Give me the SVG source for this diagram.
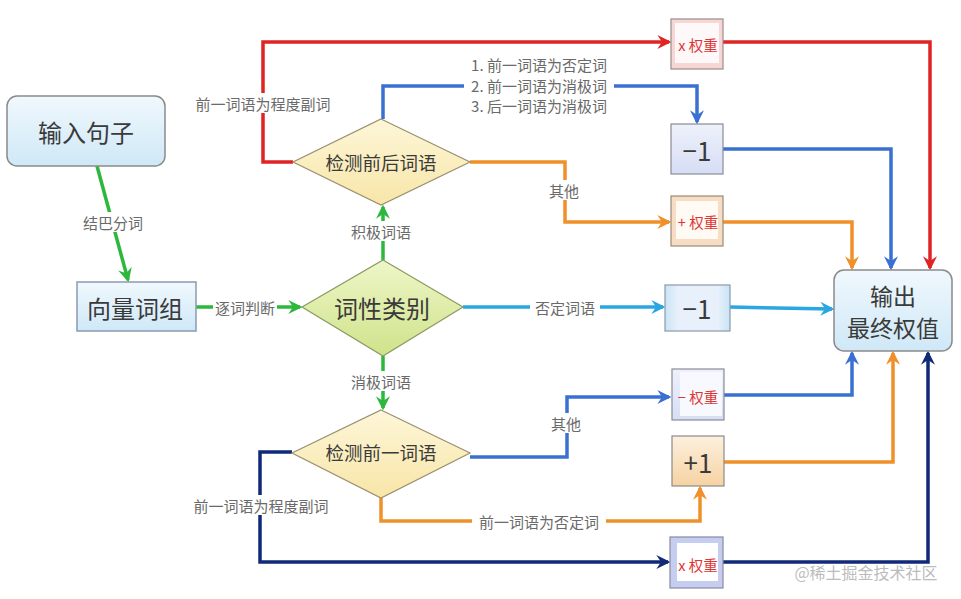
<svg xmlns="http://www.w3.org/2000/svg" width="961" height="599" viewBox="0 0 961 599">
<defs>
<style>
.t{font-family:"Noto Sans CJK SC","Noto Sans",sans-serif;}
.lbl{font-family:"Noto Sans CJK SC","Noto Sans",sans-serif;font-size:15px;fill:#6a6a6a;text-anchor:middle;dominant-baseline:central;}
.node{font-family:"Noto Sans CJK SC","Noto Sans",sans-serif;fill:#3a3a3a;text-anchor:middle;dominant-baseline:central;}
.red{font-family:"Noto Sans CJK SC","Noto Sans",sans-serif;font-size:14.5px;fill:#e03535;text-anchor:middle;dominant-baseline:central;}
.ln{fill:none;stroke-width:3.5;stroke-linejoin:miter;}
.bg{fill:#fff;}
</style>
<linearGradient id="gBlue" x1="0" y1="0" x2="0" y2="1"><stop offset="0" stop-color="#f0f8fd"/><stop offset="1" stop-color="#cfe8f7"/></linearGradient>
<linearGradient id="gGreen" x1="0" y1="0" x2="0" y2="1"><stop offset="0" stop-color="#eef6c8"/><stop offset="1" stop-color="#cfe38a"/></linearGradient>
<linearGradient id="gYellow" x1="0" y1="0" x2="0" y2="1"><stop offset="0" stop-color="#fdf6d8"/><stop offset="1" stop-color="#f8e6a8"/></linearGradient>
<linearGradient id="gLav" x1="0" y1="0" x2="0" y2="1"><stop offset="0" stop-color="#eef1fb"/><stop offset="1" stop-color="#d6def5"/></linearGradient>
<linearGradient id="gOr" x1="0" y1="0" x2="0" y2="1"><stop offset="0" stop-color="#fdf0de"/><stop offset="1" stop-color="#f6d2a2"/></linearGradient>
<linearGradient id="gSky" x1="0" y1="0" x2="1" y2="0"><stop offset="0" stop-color="#c9e4f6"/><stop offset="0.2" stop-color="#e8f1fb"/><stop offset="0.8" stop-color="#e8f1fb"/><stop offset="1" stop-color="#c9e4f6"/></linearGradient>
<marker id="aGreen" viewBox="0 0 12 12" refX="10" refY="6" markerWidth="14" markerHeight="14" markerUnits="userSpaceOnUse" orient="auto"><path d="M0,0 L12,6 L0,12 L4,6 z" fill="#2db83d"/></marker>
<marker id="aRed" viewBox="0 0 12 12" refX="10" refY="6" markerWidth="14" markerHeight="14" markerUnits="userSpaceOnUse" orient="auto"><path d="M0,0 L12,6 L0,12 L4,6 z" fill="#e02424"/></marker>
<marker id="aBlue" viewBox="0 0 12 12" refX="10" refY="6" markerWidth="14" markerHeight="14" markerUnits="userSpaceOnUse" orient="auto"><path d="M0,0 L12,6 L0,12 L4,6 z" fill="#3a70d2"/></marker>
<marker id="aOr" viewBox="0 0 12 12" refX="10" refY="6" markerWidth="14" markerHeight="14" markerUnits="userSpaceOnUse" orient="auto"><path d="M0,0 L12,6 L0,12 L4,6 z" fill="#f0902a"/></marker>
<marker id="aSky" viewBox="0 0 12 12" refX="10" refY="6" markerWidth="14" markerHeight="14" markerUnits="userSpaceOnUse" orient="auto"><path d="M0,0 L12,6 L0,12 L4,6 z" fill="#2aa6e2"/></marker>
<marker id="aNavy" viewBox="0 0 12 12" refX="10" refY="6" markerWidth="14" markerHeight="14" markerUnits="userSpaceOnUse" orient="auto"><path d="M0,0 L12,6 L0,12 L4,6 z" fill="#102a78"/></marker>
</defs>
<rect width="961" height="599" fill="#fff"/>

<g id="connectors">
<path class="ln" stroke="#2db83d" d="M97,166 L128,280" marker-end="url(#aGreen)"/>
<path class="ln" stroke="#2db83d" d="M196,307 L300,307" marker-end="url(#aGreen)"/>
<path class="ln" stroke="#2db83d" d="M383,260 L383,207" marker-end="url(#aGreen)"/>
<path class="ln" stroke="#2db83d" d="M383,356 L383,408" marker-end="url(#aGreen)"/>
<path class="ln" stroke="#2aa6e2" d="M463,307 L663,307" marker-end="url(#aSky)"/>
<path class="ln" stroke="#2aa6e2" d="M730,307 L832,309" marker-end="url(#aSky)"/>
<path class="ln" stroke="#e02424" d="M293,162 L263,162 L263,42 L669,42" marker-end="url(#aRed)"/>
<path class="ln" stroke="#e02424" d="M723,42 L930,42 L930,268" marker-end="url(#aRed)"/>
<path class="ln" stroke="#3a70d2" d="M383,119 L383,86 L697,86 L697,122" marker-end="url(#aBlue)"/>
<path class="ln" stroke="#3a70d2" d="M723,149 L891,149 L891,268" marker-end="url(#aBlue)"/>
<path class="ln" stroke="#f0902a" d="M470,162 L565,162 L565,222 L669,222" marker-end="url(#aOr)"/>
<path class="ln" stroke="#f0902a" d="M723,222 L852,222 L852,268" marker-end="url(#aOr)"/>
<path class="ln" stroke="#3a70d2" d="M470,457 L567,457 L567,397 L669,397" marker-end="url(#aBlue)"/>
<path class="ln" stroke="#3a70d2" d="M724,395 L852,395 L852,353" marker-end="url(#aBlue)"/>
<path class="ln" stroke="#f0902a" d="M381,498 L381,521 L700,521 L700,488" marker-end="url(#aOr)"/>
<path class="ln" stroke="#f0902a" d="M724,462 L893,462 L893,353" marker-end="url(#aOr)"/>
<path class="ln" stroke="#102a78" d="M292,452 L260,452 L260,562 L668,562" marker-end="url(#aNavy)"/>
<path class="ln" stroke="#102a78" d="M723,562 L928,562 L928,353" marker-end="url(#aNavy)"/>

<rect class="bg" x="78" y="212" width="70" height="20"/>
<text class="lbl" x="113" y="222">结巴分词</text>
<rect class="bg" x="213" y="297" width="64" height="20"/>
<text class="lbl" x="245" y="307">逐词判断</text>
<rect class="bg" x="347" y="221" width="68" height="20"/>
<text class="lbl" x="381" y="231">积极词语</text>
<rect class="bg" x="347" y="371" width="68" height="20"/>
<text class="lbl" x="381" y="381">消极词语</text>
<rect class="bg" x="530" y="297" width="70" height="20"/>
<text class="lbl" x="565" y="307">否定词语</text>
<rect class="bg" x="190" y="93" width="146" height="20"/>
<text class="lbl" x="263" y="103">前一词语为程度副词</text>
<rect class="bg" x="464" y="53" width="150" height="64"/>
<text class="lbl" x="539" y="64">1. 前一词语为否定词</text>
<text class="lbl" x="539" y="85">2. 前一词语为消极词</text>
<text class="lbl" x="539" y="105">3. 后一词语为消极词</text>
<rect class="bg" x="545" y="180" width="38" height="20"/>
<text class="lbl" x="564" y="190">其他</text>
<rect class="bg" x="547" y="413" width="38" height="20"/>
<text class="lbl" x="566" y="423">其他</text>
<rect class="bg" x="472" y="511" width="134" height="20"/>
<text class="lbl" x="539" y="521">前一词语为否定词</text>
<rect class="bg" x="188" y="495" width="146" height="20"/>
<text class="lbl" x="261" y="505">前一词语为程度副词</text>
</g>

<g id="n-input">
<rect x="7" y="96" width="158" height="70" rx="10" fill="url(#gBlue)" stroke="#8a8a8a" stroke-width="1.5"/>
<text class="node" x="86" y="131" font-size="24">输入句子</text>
</g>
<g id="n-vector">
<rect x="77" y="282" width="119" height="49" fill="url(#gBlue)" stroke="#8a9ab0" stroke-width="1.5"/>
<text class="node" x="135" y="307" font-size="24">向量词组</text>
</g>
<g id="n-pos">
<polygon points="383,260 463,307 383,356 302,307" fill="url(#gGreen)" stroke="#8a9a60" stroke-width="1.2"/>
<text class="node" x="382" y="307" font-size="24">词性类别</text>
</g>
<g id="n-checkboth">
<polygon points="381,119 470,162 381,205 293,162" fill="url(#gYellow)" stroke="#9a9070" stroke-width="1.2"/>
<text class="node" x="381" y="162" font-size="18.5">检测前后词语</text>
</g>
<g id="n-checkprev">
<polygon points="381,410 470,453 381,498 292,453" fill="url(#gYellow)" stroke="#9a9070" stroke-width="1.2"/>
<text class="node" x="381" y="452" font-size="18.5">检测前一词语</text>
</g>
<g id="n-xw-top">
<rect x="671" y="19" width="52" height="50" fill="#f7d6d6" stroke="#9a8a8a" stroke-width="1.2"/>
<rect x="675" y="23" width="44" height="40" fill="#fff8f8"/>
<text class="red" x="698" y="44">x 权重</text>
</g>
<g id="n-m1-top">
<rect x="671" y="124" width="52" height="50" fill="url(#gLav)" stroke="#8a8a98" stroke-width="1.2"/>
<text class="node" x="697" y="149" font-size="26">−1</text>
</g>
<g id="n-pw">
<rect x="671" y="196" width="52" height="50" fill="#f6ddc4" stroke="#9a8a7a" stroke-width="1.2"/>
<rect x="676" y="201" width="42" height="38" fill="#fffaf3"/>
<text class="red" x="698" y="221">+ 权重</text>
</g>
<g id="n-m1-mid">
<rect x="665" y="285" width="65" height="46" fill="url(#gSky)" stroke="#8a9aaa" stroke-width="1.2"/>
<text class="node" x="697" y="307" font-size="26">−1</text>
</g>
<g id="n-output">
<rect x="834" y="270" width="118" height="81" rx="10" fill="url(#gBlue)" stroke="#8a8a8a" stroke-width="1.5"/>
<text class="node" x="893" y="295" font-size="23">输出</text>
<text class="node" x="893" y="327" font-size="23">最终权值</text>
</g>
<g id="n-mw">
<rect x="672" y="369" width="52" height="51" fill="url(#gLav)" stroke="#8a8a98" stroke-width="1.2"/>
<rect x="680" y="372" width="42" height="44" fill="#f8f9fe"/>
<text class="red" x="698" y="396">− 权重</text>
</g>
<g id="n-p1">
<rect x="672" y="436" width="52" height="50" fill="url(#gOr)" stroke="#8a8a8a" stroke-width="1.2"/>
<text class="node" x="698" y="461" font-size="26">+1</text>
</g>
<g id="n-xw-bot">
<rect x="670" y="537" width="53" height="51" fill="#c5cdf0" stroke="#8a8aa0" stroke-width="1.2"/>
<rect x="677" y="543" width="41" height="38" fill="#fff"/>
<text class="red" x="698" y="564">x 权重</text>
</g>
<text class="t" x="866" y="572" font-size="16" fill="#aaa" fill-opacity="0.8" text-anchor="middle" dominant-baseline="central">@稀土掘金技术社区</text>
</svg>
